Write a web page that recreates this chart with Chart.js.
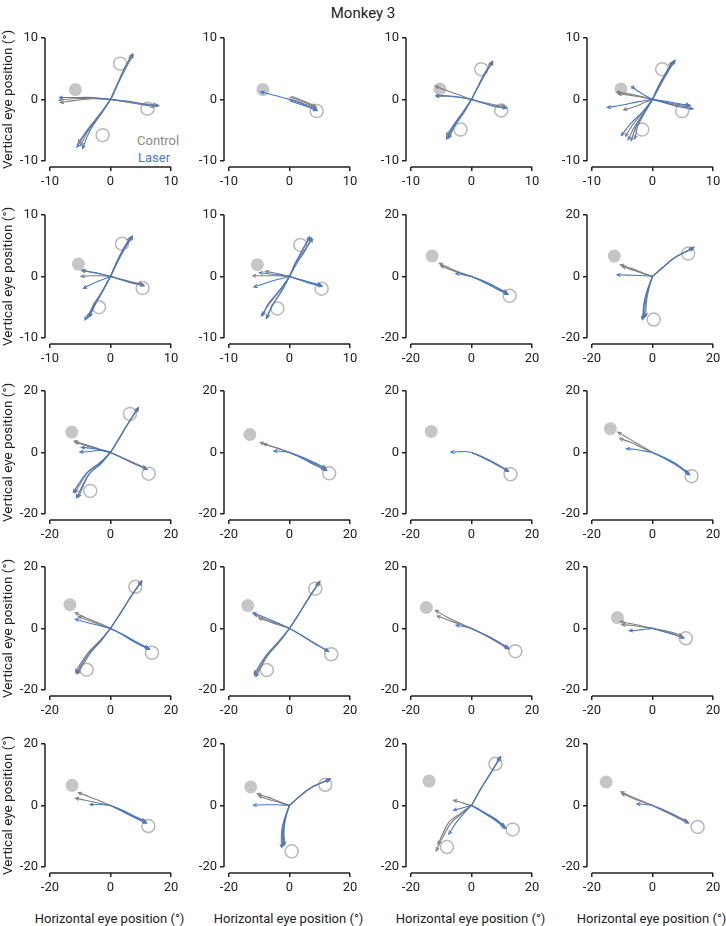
<!DOCTYPE html>
<html>
<head>
<meta charset="utf-8">
<script src="https://cdn.jsdelivr.net/npm/chart.js@4.4.1/dist/chart.umd.min.js"></script>
<style>
  body { margin: 0; background: #fff; width: 726px; height: 926px; position: relative; overflow: hidden; font-family: Roboto, sans-serif; }
  canvas { position: absolute; }
  #title { position: absolute; left: 0; top: 4px; width: 726px; text-align: center; font-size: 15px; color: #222; }
  .leg { position: absolute; font-size: 13px; line-height: 16px; }
  .xt { position: absolute; width: 200px; text-align: center; font-size: 13px; line-height: 16px; color: #222; top: 911px; }
</style>
</head>
<body>
<div id="title">Monkey 3</div>
<div class="leg" style="left:137px; top:133px; color:#8a8a8a">Control</div>
<div class="leg" style="left:138px; top:150px; color:#4a7cc8">Laser</div>
<script>
// axis half-range of each panel (row by row, 4 per row)
const ranges = [10, 10, 10, 10,  10, 10, 20, 20,  20, 20, 20, 20,  20, 20, 20, 20,  20, 20, 20, 20];

// filled grey dot in each panel
const fixDots = [
  [-5.8, 1.6], [-4.4, 1.6], [-5.2, 1.7], [-5.2, 1.7],
  [-5.3, 2.0], [-5.3, 1.9], [-13, 6.6], [-12.6, 6.6],
  [-12.8, 6.6], [-13.1, 5.8], [-13.3, 6.8], [-13.9, 7.7],
  [-13.4, 7.7], [-13.8, 7.4], [-14.9, 6.8], [-11.6, 3.5],
  [-12.7, 6.5], [-12.8, 6.0], [-14, 7.9], [-15.3, 7.6]
];

// open target rings
const targetRings = [
  [[1.6, 5.8], [6.1, -1.5], [-1.3, -5.8]],
  [[4.5, -1.9]],
  [[1.6, 4.9], [4.9, -1.8], [-1.8, -4.9]],
  [[1.6, 4.9], [4.9, -1.9], [-1.7, -4.9]],
  [[1.9, 5.3], [5.3, -1.9], [-1.9, -5.0]],
  [[1.8, 5.1], [5.3, -2.0], [-2.0, -5.2]],
  [[12.6, -6.3]],
  [[11.8, 7.4], [0.4, -14.0]],
  [[6.4, 12.5], [12.6, -6.9], [-6.7, -12.5]],
  [[13.1, -6.8]],
  [[12.9, -7.1]],
  [[12.9, -7.7]],
  [[8.2, 13.5], [13.7, -7.9], [-7.9, -13.4]],
  [[8.5, 12.9], [13.8, -8.4], [-7.5, -13.5]],
  [[14.5, -7.4]],
  [[11, -3.2]],
  [[12.5, -6.7]],
  [[11.8, 6.7], [0.7, -14.9]],
  [[7.9, 13.5], [13.6, -7.8], [-8.1, -13.5]],
  [[14.9, -7.0]]
];

// eye traces, each as x0,y0, x1,y1, ...
const controlPaths = [
  [[0,0, 1,2.2, 2.2,4.8, 3.4,7.0], [0.2,0.2, 1.2,2.4, 2.5,5, 3.7,7.2],
   [0,0, -1.5,-2.2, -3.5,-4.8, -4.9,-7.4], [0,0, -1.8,-2.4, -3.9,-5.0, -5.3,-7.0],
   [0,0, -3,0.1, -6,-0.2, -8.2,-0.5], [0,0, -3,0.2, -6,0.1, -8.4,-0.1],
   [0,0, 3,-0.5, 5.5,-0.9, 7.2,-1.2], [0,0, 3,-0.4, 5.5,-0.7, 7.5,-0.9]],
  [[0,0.4, 1.5,-0.1, 3,-0.7, 4.3,-1.2], [0,0.1, 1.5,-0.4, 3,-0.9, 4.4,-1.4], [0.3,0.5, 1.7,0, 3.1,-0.6, 4.2,-1.1]],
  [[0,0, 0.9,1.8, 2,4, 3.2,5.9], [0,0, 1.1,2.0, 2.3,4.2, 3.5,6.0],
   [0,0, -1.2,-1.8, -2.8,-4, -3.8,-6.0], [0,0, -1.3,-1.9, -3,-4.2, -4.1,-5.8],
   [0,0, -2,0.7, -4,1.4, -5.9,2.1], [0,0, -2,0.3, -4,0.5, -5.8,0.5],
   [0,0, 2,-0.6, 4,-1.1, 5.6,-1.3], [0,0, 2,-0.5, 4,-0.9, 5.4,-1.1]],
  [[0,0, 1,2, 2.3,4.3, 3.4,6.1], [0,0, 0.8,1.8, 2,4, 3.1,5.9], [0,0, 1.2,2.1, 2.5,4.4, 3.6,6.2],
   [0,0, -1.2,-2, -2.4,-4.3, -2.9,-6.3], [0,0, -1.4,-2.1, -3,-4.5, -4.0,-6.5], [0,0, -1.5,-2, -3.2,-4, -4.4,-5.9],
   [0,0, -2,0.4, -4,0.7, -5.6,0.9], [0,0, -1.5,-0.6, -3,-1.2, -4.7,-1.7], [0,0, -2,0.5, -4,0.9, -5.8,1.2],
   [0,0, 2,-0.5, 4,-1, 6.0,-1.2], [0,0, 2,-0.4, 4,-0.8, 6.2,-1.0]],
  [[0,0, 0.9,2, 2.2,4.4, 3.4,6.3], [0,0, 1.1,2.2, 2.4,4.6, 3.6,6.4],
   [0,0, -1.2,-2.2, -2.5,-4.5, -3.4,-6.4], [0,0, -1.4,-2.4, -2.9,-4.8, -3.8,-6.7],
   [0,0, -1.6,0.1, -3.2,0.1, -4.8,0], [0,0, -1.6,0.4, -3.2,0.7, -4.7,0.9],
   [0,0, 2,-0.6, 4,-1.1, 5.4,-1.4], [0,0, 2,-0.5, 4,-1, 5.2,-1.2]],
  [[0,0, 1.1,2.2, 2.5,4.3, 3.8,6.0], [0,0, 0.9,2, 2.1,4.2, 3.3,6.2],
   [0,0, -1.5,-2.2, -3.3,-4.4, -4.6,-6.4], [0,0, -1.3,-2.3, -2.8,-4.7, -3.7,-6.6],
   [0,0, -2,0.1, -4,0.1, -6.0,0.1], [0,0, -1.3,0.3, -2.6,0.6, -3.9,0.8],
   [0,0, 1.8,-0.6, 3.6,-1.1, 5.2,-1.5]],
  [[0,0, -3.5,1.2, -7,2.6, -10.5,4.2], [0,0, -3.5,1.0, -7,2.2, -10,3.4],
   [0,0, 4,-1.6, 8,-3.4, 11.5,-5.2], [0,0, 4,-1.8, 8,-3.8, 11.8,-5.6]],
  [[0,0, 3,2.5, 7,5.8, 13.6,9.4], [0,0, 3.2,2.8, 7.5,6.2, 13.2,9.0],
   [0,0, -1.5,-4, -2.6,-8, -3.0,-13.5], [0,0, -1.2,-4, -2,-8.5, -2.2,-12.8],
   [0,0, -3.5,1.3, -7,2.6, -10.5,3.8], [0,0, -3.5,1.0, -7,2.2, -9.8,3.2]],
  [[0,0, 2.5,4, 5.5,9, 8.8,14.0], [0,0, 2.8,4.3, 5.8,9.3, 9.1,14.3],
   [0,0, -3.5,-3.5, -7.5,-6.5, -11.7,-13], [0,0, -3,-3.5, -7,-7, -10.5,-14.4],
   [0,0, -4,1.2, -8,2.5, -11.9,3.6], [0,0, -4,1.0, -8,2.2, -11.5,3.2],
   [0,0, 4,-1.8, 8,-3.6, 11.8,-5.3], [0,0, 4,-1.7, 8,-3.5, 11.5,-5.0]],
  [[0,0, -3.5,1.2, -7,2.3, -9.5,3.2], [0,0, -3,1.1, -6,2, -8.5,2.8],
   [0,0, 4,-1.5, 8,-3.4, 12,-5.2], [0,0, 4,-1.7, 8,-3.7, 11.5,-5.6]],
  [[0,0, 4,-1.6, 8,-3.6, 11.8,-5.8], [0,0, 4,-1.8, 8,-3.9, 12.1,-6.1]],
  [[0,0, -3.5,2, -7.5,4.3, -11.3,6.5], [0,0, -3.5,1.5, -7,3.2, -10.7,4.5],
   [0,0, 4,-1.8, 8,-4, 12,-7]],
  [[0,0, 3,4.5, 6.5,10, 10,15], [0,0, 3.2,4.8, 6.8,10.4, 10.2,15.3],
   [0,0, -3.5,-4, -7.5,-8, -11.5,-14], [0,0, -3.2,-4.2, -7,-8.5, -10.8,-14.6],
   [0,0, -4,1.8, -8,3.4, -11.5,5], [0,0, -3.5,1.2, -7,2.5, -10.5,3.8],
   [0,0, 4,-2, 8,-4.3, 12.5,-6.5]],
  [[0,0, 3,4.5, 6.5,10, 9.8,15], [0,0, 2.8,4.3, 6.2,9.8, 9.5,14.6],
   [0,0, -3.4,-4.5, -7.3,-9, -11,-15.5], [0,0, -3.6,-4.2, -7.6,-8.6, -11.6,-14.6],
   [0,0, -4,1.6, -8,3, -11.5,4.5], [0,0, -3.5,1.1, -7,2.3, -10,3.3],
   [0,0, 4,-2.2, 8,-4.6, 12.5,-7.2]],
  [[0,0, -4,1.8, -8,3.6, -11.8,5.8], [0,0, -4,1.4, -8,2.8, -11.2,4.0],
   [0,0, 4,-1.8, 8,-3.8, 11.8,-6.2], [0,0, 4,-2, 8,-4.2, 12,-6.6]],
  [[0,0, -3.5,0.8, -7,1.5, -10.5,2.2], [0,0, -3.5,0.5, -7,1, -10,1.2],
   [0,0, 3.5,-0.8, 7,-1.8, 10,-2.9], [0,0, 3.5,-0.6, 7,-1.4, 9.6,-2.4]],
  [[0,0, -3.5,1.4, -7,2.8, -10.5,4.1], [0,0, -4,0.8, -8,1.6, -11.4,2.3],
   [0,0, 4,-1.8, 8,-3.8, 11.5,-5.4], [0,0, 4,-1.6, 8,-3.5, 11.2,-5.0]],
  [[0,0, 3,2.6, 7,5.6, 13.4,8.6], [0,0, 3.2,2.8, 7.4,6, 13,8.2],
   [0,0, -1.5,-4, -2.3,-8, -2.2,-13], [0,0, -1.2,-3.8, -1.8,-8, -1.6,-12.6],
   [0,0, -3.5,1.3, -7,2.6, -10.5,3.8], [0,0, -3.5,1, -7,2, -10,3]],
  [[0,0, 2.8,5, 6,10, 9.2,15.2], [0,0, 3,5.2, 6.3,10.4, 9.6,15.6],
   [0,0, 4,-2.3, 8,-4.8, 11,-7.2], [0,0, 4,-2.1, 8,-4.4, 10.6,-6.8],
   [0,0, -3,-2.5, -7,-6, -11.6,-14.6], [0,0, -3.5,-2.5, -7.5,-5.5, -11,-12.5],
   [0,0, -2,0.5, -4,1.2, -5.8,1.6]],
  [[0,0, -3.5,1.4, -7,2.9, -10.3,4.4], [0,0, -3.5,1.2, -7,2.5, -10,3.8],
   [0,0, 4,-1.8, 8,-3.6, 11.6,-5.4], [0,0, 4,-1.6, 8,-3.4, 11.2,-5.1]]
];

const laserPaths = [
  [[0,0, 1.1,2.4, 2.3,5, 3.6,7.3], [0,0, -1.6,-2.4, -3.9,-5.2, -5.5,-7.7], [0,0, -1.4,-2.1, -3.3,-4.9, -4.6,-7.9],
   [0,0, -3,0.3, -6,0.3, -8.4,0.3], [0,0, 3,-0.3, 5.5,-0.8, 7.9,-1.0]],
  [[0,0, 1.5,-0.5, 3,-1.1, 4.5,-1.7], [0,-0.2, 1.5,-0.7, 3,-1.2, 4.4,-1.8], [0,0, -1.5,0.4, -3,0.8, -4.7,1.2]],
  [[0,0, 1,1.9, 2.2,4.1, 3.4,6.1], [0,0, -1.3,-2, -3,-4.4, -4.1,-6.4], [0,0, -1.1,-1.9, -2.7,-4.2, -3.7,-6.2],
   [0,0, -2,0.4, -4,0.6, -5.9,0.6], [0,0, 2,-0.6, 4,-1.2, 5.7,-1.4]],
  [[0,0, 1.1,2.1, 2.4,4.4, 3.7,6.3], [0,0, 0.9,1.9, 2.2,4.2, 3.3,6.0],
   [0,0, -1.6,-2, -3.5,-3.8, -5.1,-5.8], [0,0, -1.3,-2.1, -2.7,-4.4, -3.5,-6.6],
   [0,0, -2.5,-0.4, -5,-0.9, -7.4,-1.3], [0,0, -1.5,0.8, -2.8,1.6, -3.5,2.1, -3.0,1.8],
   [0,0, 2.2,-0.3, 4.4,-0.7, 6.0,-0.9], [0,0, 2.2,-0.6, 4.4,-1.2, 6.6,-1.5]],
  [[0,0, 1,2.1, 2.3,4.5, 3.6,6.5], [0,0, 0.8,1.9, 2,4.3, 3.2,6.2],
   [0,0, -1.3,-2.4, -2.8,-4.9, -4.2,-7.0], [0,0, -1.2,-2.2, -2.6,-4.6, -3.5,-6.5],
   [0,0, -1.5,-0.6, -3,-1.2, -4.4,-1.9], [0,0, -1.6,0.4, -3.2,0.7, -4.6,1.0],
   [0,0, 2,-0.6, 4,-1.2, 5.5,-1.5]],
  [[0,0, 1,2.2, 2.2,4.4, 3.3,6.4], [0,0, 1.2,2.1, 2.6,4.2, 3.6,6.2],
   [0,0, -1.3,-2.4, -2.9,-4.8, -3.8,-6.8], [0,0, -1.6,-2.2, -3.4,-4.3, -4.4,-6.2],
   [0,0, -2,-0.5, -4,-1.1, -5.8,-1.7], [0,0, -1.6,0.2, -3.3,0.4, -4.9,0.6],
   [0,0, 1.8,-0.6, 3.6,-1.2, 5.3,-1.6], [0,0, 1.8,-0.5, 3.6,-1.0, 5.2,-1.4]],
  [[0,0, 4,-1.8, 8,-3.9, 12,-5.8], [0,0, 4,-1.5, 8,-3.4, 11.6,-5.4], [0,0, -2.5,0.5, -5,0.9]],
  [[0,0, 3.1,2.6, 7.2,6, 13.4,9.2],
   [0,0, -1.6,-4.2, -2.8,-8.5, -3.3,-13.9], [0,0, -1.3,-4, -2.3,-8, -2.6,-13.2],
   [0,0, -4,0.3, -8,0.4, -11.6,0.5]],
  [[0,0, 2.6,4.2, 5.7,9.2, 9.1,14.4],
   [0,0, -3.2,-3.6, -7.2,-7.2, -11.2,-14.6], [0,0, -3.6,-3.4, -8,-6.8, -12.2,-12.8],
   [0,0, -3.5,0.6, -7,0.3, -10,0.1], [0,0, -3.5,0.9, -7,1.4, -9.5,1.6],
   [0,0, 4,-1.9, 8,-3.8, 12,-5.5]],
  [[0,0, 4,-1.8, 8,-3.9, 12.2,-5.8], [0,0, 4,-1.5, 8,-3.2, 11.8,-5.0], [0,0, -2.5,0.3, -5,0.5]],
  [[0,0, 4,-1.7, 8,-3.7, 12,-6.0], [0,0, -2.2,0.3, -4.4,0.2, -6.7,0.1]],
  [[0,0, 4,-2, 8,-4.3, 12.2,-7.2], [0,0, 4,-1.7, 8,-3.8, 11.6,-6.6], [0,0, -3,0.5, -6,1, -8.5,1.2]],
  [[0,0, 3.1,4.6, 6.6,10.1, 10.3,15.2], [0,0, -3.4,-4.1, -7.3,-8.3, -11.2,-14.5],
   [0,0, -4,1, -8,2, -11.5,3], [0,0, 4,-2.1, 8,-4.5, 12.8,-6.8], [0,0, 4,-1.9, 8,-4.1, 12.3,-6.3]],
  [[0,0, 3.1,4.6, 6.6,10.2, 10,15.2], [0,0, -3.5,-4.4, -7.5,-8.8, -11.4,-15.2],
   [0,0, -4,1.8, -8,3.5, -12,5], [0,0, 4,-2.3, 8,-4.8, 12.8,-7.4]],
  [[0,0, 4,-1.9, 8,-4.0, 12.2,-6.4], [0,0, -2.5,0.6, -5,1]],
  [[0,0, 3.5,-1, 7,-2, 10.3,-3.1], [0,0, -2.5,-0.3, -5,-0.6, -7.5,-0.7]],
  [[0,0, 4,-2, 8,-4, 11.8,-5.7], [0,0, 4,-1.7, 8,-3.7, 11.6,-5.3], [0,0, -2.2,0.2, -4.4,0.3, -6.7,0.3]],
  [[0,0, 3.1,2.7, 7.2,5.8, 13.2,8.4], [0,0, -1.6,-4.2, -2.6,-8.4, -2.6,-13.6],
   [0,0, -1.3,-3.9, -2,-8.1, -1.9,-12.9], [0,0, -4,0.2, -8,0.2, -11.8,0.1]],
  [[0,0, 2.9,5.1, 6.2,10.3, 9.5,15.7], [0,0, 4,-2.4, 8,-5, 11.2,-7.4], [0,0, 4,-2.2, 8,-4.6, 10.8,-6.6],
   [0,0, -2.5,-2.6, -5,-5.5, -7.4,-9.2], [0,0, -2,-0.5, -4,-1.1, -5.8,-1.6]],
  [[0,0, 4,-1.9, 8,-3.9, 11.8,-5.7], [0,0, -2.5,0.3, -5,0.5]]
];

const GREY = '#7e7e7e';
const BLUE = '#4677c8';
const INK = '#222';
const FONT = 'Roboto';

Chart.defaults.font.family = FONT;

function toPts(flat) {
  const pts = [];
  for (let k = 0; k < flat.length; k += 2) pts.push({ x: flat[k], y: flat[k + 1] });
  return pts;
}

// axis lines only over the tick range, detached from the plot
const axisLines = {
  id: 'axisLines',
  afterDraw(chart) {
    const { ctx, chartArea, scales } = chart;
    const R = scales.x.ticks[scales.x.ticks.length - 1].value;
    ctx.save();
    ctx.strokeStyle = INK;
    ctx.lineWidth = 1.5;
    ctx.beginPath();
    ctx.moveTo(scales.x.getPixelForValue(-R), chartArea.bottom);
    ctx.lineTo(scales.x.getPixelForValue(R), chartArea.bottom);
    ctx.moveTo(chartArea.left, scales.y.getPixelForValue(-R));
    ctx.lineTo(chartArea.left, scales.y.getPixelForValue(R));
    ctx.stroke();
    ctx.restore();
  }
};

// little arrow heads at the end of each trace
const arrowHeads = {
  id: 'arrowHeads',
  afterDatasetsDraw(chart) {
    const ctx = chart.ctx;
    for (let i = chart.data.datasets.length - 1; i >= 0; i--) {
      const ds = chart.data.datasets[i];
      if (!ds.arrow) continue;
      const pts = chart.getDatasetMeta(i).data;
      const a = pts[pts.length - 2], b = pts[pts.length - 1];
      const ang = Math.atan2(b.y - a.y, b.x - a.x);
      ctx.save();
      ctx.translate(b.x, b.y);
      ctx.rotate(ang);
      ctx.strokeStyle = ds.borderColor;
      ctx.lineWidth = 1;
      ctx.beginPath();
      ctx.moveTo(-3, -1.6);
      ctx.lineTo(0.5, 0);
      ctx.lineTo(-3, 1.6);
      ctx.stroke();
      ctx.restore();
    }
  }
};

const colLeft = [50, 229, 411, 592];     // pixel of x = -R
const rowTop = [37, 214, 390, 566, 743]; // pixel of y = +R
const spanX = 123, spanY = 124, gapX = 5, gapY = 6;
const yW = 45, padT = 10, padR = 6;

// x axis titles under the bottom row
colLeft.forEach(L => {
  const d = document.createElement('div');
  d.className = 'xt';
  d.style.left = (L + spanX / 2 - 2 - 100) + 'px';
  d.textContent = 'Horizontal eye position (°)';
  document.body.appendChild(d);
});

for (let i = 0; i < 20; i++) {
  const r = Math.floor(i / 4), c = i % 4;
  const R = ranges[i];
  const firstCol = c === 0;
  const xH = 24;

  const cv = document.createElement('canvas');
  cv.width = yW + spanX + 2 * gapX + padR;
  cv.height = padT + spanY + 2 * gapY + xH;
  cv.style.left = (colLeft[c] - gapX - yW) + 'px';
  cv.style.top = (rowTop[r] - gapY - padT) + 'px';
  document.body.appendChild(cv);

  const datasets = [];
  laserPaths[i].forEach(p => datasets.push({
    data: toPts(p), showLine: true, borderColor: BLUE, borderWidth: 1.1,
    pointRadius: 0, tension: 0.35, arrow: true
  }));
  controlPaths[i].forEach(p => datasets.push({
    data: toPts(p), showLine: true, borderColor: GREY, borderWidth: 1.1,
    pointRadius: 0, tension: 0.35, arrow: true
  }));
  datasets.push({
    data: targetRings[i].map(([x, y]) => ({ x, y })),
    pointRadius: 6.5, pointStyle: 'circle', backgroundColor: 'rgba(0,0,0,0)',
    borderColor: '#b8b8b8', borderWidth: 1.5
  });
  datasets.push({
    data: [{ x: fixDots[i][0], y: fixDots[i][1] }],
    pointRadius: 6.5, pointStyle: 'circle', backgroundColor: '#c6c6c6', borderWidth: 0
  });

  const padXv = R * 2 * gapX / spanX;
  const padYv = R * 2 * gapY / spanY;
  const threeTicks = scale => { scale.ticks = [{ value: -R }, { value: 0 }, { value: R }]; };

  new Chart(cv, {
    type: 'scatter',
    data: { datasets },
    options: {
      responsive: false,
      animation: false,
      events: [],
      layout: { padding: { left: 0, top: padT, right: padR, bottom: 0 } },
      plugins: { legend: { display: false }, tooltip: { enabled: false } },
      scales: {
        x: {
          min: -R - padXv, max: R + padXv,
          afterBuildTicks: threeTicks,
          afterFit: s => { s.height = xH; },
          grid: { drawOnChartArea: false, drawTicks: true, tickLength: 4, color: INK, lineWidth: 1.5 },
          border: { display: false },
          ticks: { color: INK, font: { size: 13 }, padding: 3, maxRotation: 0 }
        },
        y: {
          min: -R - padYv, max: R + padYv,
          afterBuildTicks: threeTicks,
          afterFit: s => { s.width = yW; },
          grid: { drawOnChartArea: false, drawTicks: true, tickLength: 4, color: INK, lineWidth: 1.5 },
          border: { display: false },
          ticks: { color: INK, font: { size: 13 }, padding: 3 },
          title: { display: firstCol, text: 'Vertical eye position (°)', color: INK,
                   font: { size: 13.5 }, padding: { top: 1, bottom: 0 } }
        }
      }
    },
    plugins: [axisLines, arrowHeads]
  });
}
</script>
</body>
</html>
